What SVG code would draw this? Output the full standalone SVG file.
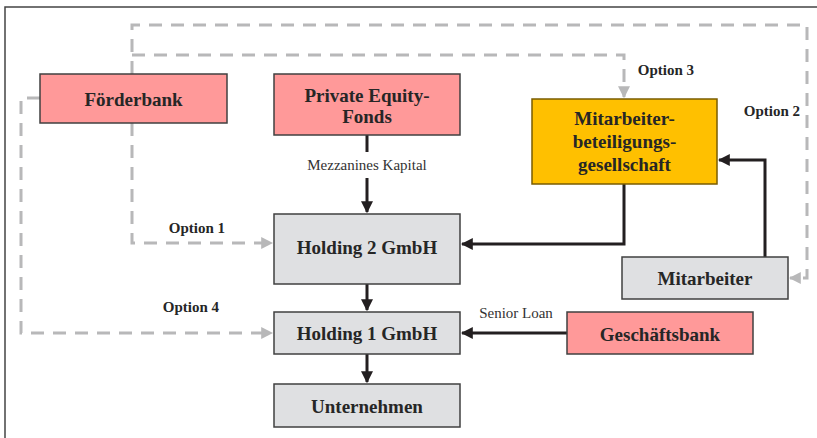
<svg xmlns="http://www.w3.org/2000/svg" width="817" height="438" viewBox="0 0 817 438">
<style>
.box{stroke:#404040;stroke-width:1.5}
.pink{fill:#ff9999}
.grey{fill:#dfe0e2}
.gold{fill:#ffc000;stroke:#7a5c00}
.t{font-family:"Liberation Serif",serif;font-weight:bold;font-size:19px;fill:#262626;text-anchor:middle}
.lbl{font-family:"Liberation Serif",serif;font-size:15px;fill:#333;text-anchor:middle}
.opt{font-family:"Liberation Serif",serif;font-weight:bold;font-size:15px;fill:#262626;text-anchor:middle}
.solid{fill:none;stroke:#231f20;stroke-width:3}
.dash{fill:none;stroke:#b8b8b9;stroke-width:3;stroke-dasharray:13 9}
</style>
<defs>
<marker id="ah" viewBox="0 0 10 10" refX="9" refY="5" markerWidth="4" markerHeight="4" orient="auto" markerUnits="strokeWidth">
<path d="M0,0 L10,5 L0,10 z" fill="#231f20"/>
</marker>
<marker id="ahg" viewBox="0 0 10 10" refX="9" refY="5" markerWidth="4" markerHeight="4" orient="auto" markerUnits="strokeWidth">
<path d="M0,0 L10,5 L0,10 z" fill="#b8b8b9"/>
</marker>
</defs>
<rect x="0" y="0" width="817" height="438" fill="#ffffff"/>
<path d="M5,440 L5,7 L820,7" fill="none" stroke="#444" stroke-width="1.5"/>

<g id="connectors">
<line class="solid" x1="367" y1="135" x2="367" y2="152"/>
<line class="solid" x1="367" y1="178" x2="367" y2="212" marker-end="url(#ah)"/>
<line class="solid" x1="367" y1="284" x2="367" y2="310" marker-end="url(#ah)"/>
<line class="solid" x1="367" y1="354" x2="367" y2="382" marker-end="url(#ah)"/>
<polyline class="solid" points="624,184 624,244 462,244" marker-end="url(#ah)"/>
<polyline class="solid" points="765,257 765,160 719,160" marker-end="url(#ah)"/>
<line class="solid" x1="567" y1="333" x2="462" y2="333" marker-end="url(#ah)"/>

<polyline class="dash" points="132,74 132,25 807,25 807,278 790,278" marker-end="url(#ahg)"/>
<polyline class="dash" points="132,55 624,55 624,97" marker-end="url(#ahg)"/>
<polyline class="dash" points="132,123 132,243 272,243" marker-end="url(#ahg)"/>
<polyline class="dash" points="40,98 21,98 21,333 272,333" marker-end="url(#ahg)"/>

<text class="lbl" x="367" y="170">Mezzanines Kapital</text>
<text class="lbl" x="516" y="318">Senior Loan</text>
<text class="opt" x="197" y="233">Option 1</text>
<text class="opt" x="772" y="116">Option 2</text>
<text class="opt" x="666" y="75">Option 3</text>
<text class="opt" x="191" y="312">Option 4</text>
</g>

<g id="foerderbank">
<rect class="box pink" x="40" y="74" width="187" height="49"/>
<text class="t" x="133.5" y="106">Förderbank</text>
</g>
<g id="pe-fonds">
<rect class="box pink" x="274" y="74" width="186" height="61"/>
<text class="t" x="367" y="102">Private Equity-</text>
<text class="t" x="367" y="123">Fonds</text>
</g>
<g id="mbg">
<rect class="box gold" x="532" y="99" width="185" height="85"/>
<text class="t" x="624.5" y="125">Mitarbeiter-</text>
<text class="t" x="624.5" y="148">beteiligungs-</text>
<text class="t" x="624.5" y="171">gesellschaft</text>
</g>
<g id="holding2">
<rect class="box grey" x="274" y="214" width="186" height="70"/>
<text class="t" x="367" y="254">Holding 2 GmbH</text>
</g>
<g id="mitarbeiter">
<rect class="box grey" x="622" y="257" width="166" height="42"/>
<text class="t" x="705" y="285">Mitarbeiter</text>
</g>
<g id="holding1">
<rect class="box grey" x="274" y="312" width="186" height="42"/>
<text class="t" x="367" y="340">Holding 1 GmbH</text>
</g>
<g id="geschaeftsbank">
<rect class="box pink" x="567" y="312" width="186" height="42"/>
<text class="t" x="660" y="341">Geschäftsbank</text>
</g>
<g id="unternehmen">
<rect class="box grey" x="274" y="384" width="186" height="43"/>
<text class="t" x="367" y="413">Unternehmen</text>
</g>
</svg>
